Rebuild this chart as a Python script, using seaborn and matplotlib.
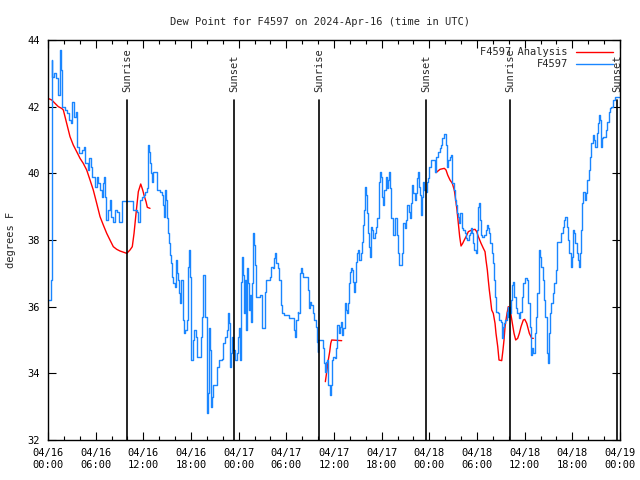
import numpy as np
import pandas as pd
import seaborn as sns
import matplotlib.pyplot as plt
import matplotlib.dates as mdates

start = pd.Timestamp('2024-04-16 00:00')

# station observations: hours since 04/16 00:00 UTC, dew point (F)
blue_hours = [0.00, 0.34, 0.47, 0.54, 0.79, 1.01, 1.22, 1.30, 1.51, 1.64, 1.80, 2.14, 2.35, 2.64, 2.90,
              3.06, 3.27, 3.49, 3.61, 3.69, 3.90, 4.24, 4.57, 4.66, 5.00, 5.16, 5.38, 5.50, 5.79, 5.92,
              6.13, 6.33, 6.55, 6.76, 6.96, 7.09, 7.18, 7.30, 7.59, 7.80, 7.93, 8.22, 8.43, 8.65, 8.94,
              9.19, 9.35, 10.61, 10.74, 11.17, 11.37, 11.58, 11.79, 12.12, 12.21, 12.42, 12.63, 12.75,
              12.84, 12.97, 13.09, 13.26, 13.60, 13.68, 13.76, 14.10, 14.31, 14.44, 14.51, 14.60, 14.73,
              14.85, 14.94, 15.07, 15.19, 15.36, 15.48, 15.65, 15.77, 15.95, 16.11, 16.20, 16.40, 16.53,
              16.62, 16.78, 16.96, 17.08, 17.25, 17.46, 17.66, 17.79, 17.87, 17.96, 18.04, 18.21, 18.38,
              18.63, 18.79, 19.05, 19.22, 19.39, 19.47, 19.55, 19.76, 19.98, 20.05, 20.18, 20.30, 20.39,
              20.56, 20.64, 20.81, 21.15, 21.31, 21.49, 21.87, 22.07, 22.24, 22.49, 22.66, 22.75, 22.91,
              23.00, 23.16, 23.33, 23.54, 23.75, 23.88, 24.04, 24.17, 24.29, 24.42, 24.55, 24.67, 24.80,
              24.92, 25.05, 25.18, 25.30, 25.43, 25.55, 25.72, 25.84, 25.93, 26.06, 26.22, 26.56, 26.72,
              26.90, 26.98, 27.15, 27.28, 27.40, 27.82, 27.95, 28.07, 28.29, 28.49, 28.61, 28.74, 28.91,
              29.08, 29.29, 29.49, 29.67, 30.17, 30.34, 30.93, 31.00, 31.13, 31.26, 31.43, 31.51, 31.68,
              31.76, 31.85, 32.01, 32.14, 32.56, 32.69, 32.85, 32.98, 33.11, 33.32, 33.52, 33.70, 33.82,
              33.95, 34.03, 34.53, 34.65, 34.78, 34.87, 34.99, 35.16, 35.28, 35.46, 35.59, 35.71, 35.91,
              36.09, 36.21, 36.34, 36.42, 36.63, 36.79, 36.92, 37.05, 37.17, 37.35, 37.42, 37.55, 37.68,
              37.80, 37.89, 38.01, 38.14, 38.27, 38.43, 38.52, 38.65, 38.77, 38.90, 39.02, 39.19, 39.36,
              39.53, 39.65, 39.78, 39.90, 40.03, 40.12, 40.28, 40.41, 40.53, 40.70, 40.82, 40.95, 41.12,
              41.29, 41.45, 41.63, 41.70, 41.79, 41.92, 42.08, 42.21, 42.33, 42.51, 42.64, 42.80, 42.96,
              43.09, 43.21, 43.39, 43.55, 43.72, 43.89, 44.02, 44.18, 44.47, 44.60, 44.72, 44.90, 45.06,
              45.23, 45.41, 45.57, 45.73, 45.86, 45.98, 46.16, 46.29, 46.41, 46.54, 46.66, 46.83, 46.99,
              47.12, 47.24, 47.37, 47.55, 47.67, 47.87, 48.00, 48.21, 48.50, 48.71, 48.88, 49.13, 49.31,
              49.47, 49.63, 49.81, 49.97, 50.10, 50.23, 50.39, 50.57, 50.77, 50.89, 51.07, 51.23, 51.36,
              51.48, 51.65, 51.77, 51.90, 52.08, 52.28, 52.49, 52.62, 52.78, 52.96, 53.12, 53.25, 53.37,
              53.50, 53.66, 53.84, 53.97, 54.09, 54.17, 54.29, 54.42, 54.51, 54.67, 54.88, 55.10, 55.22,
              55.35, 55.51, 55.68, 55.85, 56.02, 56.14, 56.27, 56.39, 56.61, 56.81, 56.99, 57.11, 57.24,
              57.40, 57.57, 57.74, 57.87, 57.95, 58.07, 58.20, 58.32, 58.45, 58.57, 58.70, 58.87, 59.08,
              59.29, 59.45, 59.63, 59.83, 60.04, 60.26, 60.46, 60.67, 60.80, 60.93, 61.09, 61.26, 61.43,
              61.59, 61.77, 61.85, 61.97, 62.10, 62.27, 62.44, 62.60, 62.78, 62.90, 63.03, 63.19, 63.35,
              63.53, 63.73, 63.95, 64.11, 64.45, 64.61, 64.79, 64.95, 65.12, 65.29, 65.46, 65.62, 65.80,
              65.92, 66.05, 66.17, 66.34, 66.55, 66.71, 66.88, 67.00, 67.13, 67.26, 67.38, 67.56, 67.72,
              67.89, 68.06, 68.23, 68.39, 68.57, 68.73, 68.89, 69.07, 69.19, 69.32, 69.45, 69.57, 69.70,
              69.90, 70.11, 70.24, 70.40, 70.58, 70.74, 70.91, 71.08, 71.33, 71.91]
blue_dew = [36.20, 36.80, 43.40, 42.90, 43.01, 42.86, 42.60, 42.35, 43.70, 43.10, 42.00, 41.90, 41.81, 41.60, 41.51,
            42.15, 41.70, 41.85, 41.21, 40.80, 40.61, 40.70, 40.80, 40.31, 40.10, 40.46, 40.20, 39.90, 39.90, 39.60,
            39.90, 39.71, 39.50, 39.30, 39.71, 39.90, 39.30, 38.60, 38.90, 39.20, 38.70, 38.55, 38.90, 38.85, 38.55,
            38.55, 39.18, 39.18, 38.90, 38.85, 38.55, 39.20, 39.30, 39.35, 39.45, 39.55, 40.85, 40.65,
            40.31, 40.01, 39.75, 40.05, 40.05, 39.60, 39.50, 39.45, 39.35, 39.20, 39.05, 38.70, 39.50,
            39.20, 38.65, 38.20, 37.90, 37.55, 37.30, 36.90, 36.70, 36.60, 37.40, 37.00, 36.80, 36.40,
            36.10, 36.80, 35.60, 35.20, 35.30, 35.60, 37.20, 37.70, 36.90, 35.30, 34.40, 35.00, 35.30,
            35.10, 34.50, 34.50, 35.10, 35.70, 36.50, 36.95, 35.70, 34.70, 32.80, 33.40, 35.35, 34.70,
            33.00, 33.30, 33.65, 33.65, 34.20, 34.40, 34.42, 34.90, 35.10, 35.30, 35.80, 35.50, 34.20,
            34.60, 35.10, 34.70, 34.40, 34.60, 35.10, 35.35, 34.40, 36.75, 37.50, 36.95, 35.80, 36.80,
            35.30, 37.15, 36.70, 35.90, 36.35, 35.55, 36.70, 38.20, 37.85, 37.25, 36.30, 36.30, 36.35,
            35.85, 35.35, 35.35, 36.45, 36.80, 36.80, 36.90, 37.20, 37.15, 37.45, 37.60, 37.30, 37.15,
            36.80, 36.05, 35.80, 35.75, 35.75, 35.65, 35.62, 35.30, 35.10, 35.60, 35.85, 35.80, 36.45,
            37.00, 37.15, 37.00, 36.90, 36.90, 36.50, 35.95, 36.15, 36.05, 35.80, 35.60, 35.40, 34.95,
            34.65, 35.00, 35.00, 34.75, 34.30, 34.05, 34.35, 34.40, 33.65, 33.35, 33.65, 34.40, 34.50,
            34.45, 34.75, 35.30, 35.45, 35.20, 35.40, 35.55, 35.15, 35.35, 35.80, 36.10, 35.90, 35.80,
            36.10, 36.70, 37.05, 37.15, 37.10, 36.75, 36.45, 36.75, 37.35, 37.60, 37.70, 37.40, 37.60,
            37.95, 38.45, 38.90, 39.60, 39.35, 38.80, 38.20, 37.80, 37.50, 38.40, 38.30, 38.05, 38.20,
            38.40, 38.65, 39.10, 39.75, 40.05, 39.90, 39.30, 39.05, 39.50, 39.90, 39.55, 39.80, 40.05,
            39.55, 38.65, 38.15, 38.15, 38.65, 38.15, 37.60, 37.25, 37.25, 37.60, 38.50, 38.35, 38.60,
            39.05, 38.85, 38.65, 39.10, 39.65, 39.40, 39.20, 39.40, 39.85, 40.05, 39.60, 39.35, 38.75,
            39.30, 39.75, 39.50, 39.45, 39.75, 39.85, 40.20, 40.40, 40.40, 40.05, 40.50, 40.65, 40.75,
            40.85, 41.05, 41.18, 41.18, 40.85, 40.20, 40.40, 40.50, 40.55, 39.70, 39.50, 39.20, 39.05,
            38.80, 38.70, 38.50, 38.80, 38.35, 38.30, 38.20, 38.05, 38.00, 38.15, 38.20, 38.35, 38.20,
            37.90, 37.70, 37.60, 38.30, 38.70, 39.00, 39.10, 38.60, 38.15, 38.10, 38.15, 38.30, 38.45,
            38.35, 38.20, 37.90, 37.60, 37.30, 36.80, 36.30, 35.85, 35.80, 35.60, 35.55, 35.05, 35.40,
            35.50, 35.60, 35.85, 36.00, 35.70, 36.00, 35.80, 36.20, 36.65, 36.75, 36.30, 35.95, 35.80,
            35.65, 35.85, 36.30, 36.70, 36.85, 36.80, 36.10, 35.40, 34.55, 34.75, 34.60, 35.20, 35.70,
            36.40, 37.20, 37.70, 37.50, 37.20, 36.80, 36.20, 35.70, 34.60, 34.30, 35.20, 35.80, 36.10,
            36.40, 36.70, 37.10, 37.95, 37.95, 38.20, 38.40, 38.60, 38.70, 38.40, 38.00, 37.60, 37.20,
            37.50, 38.30, 38.20, 37.90, 37.60, 37.40, 37.20, 37.60, 38.30, 39.10, 39.45, 39.20, 39.40,
            39.80, 40.10, 40.50, 40.90, 41.15, 41.00, 40.80, 41.20, 41.50, 41.75, 41.60, 40.80, 41.05,
            41.10, 41.10, 41.30, 41.55, 41.85, 41.95, 42.00, 42.20, 42.28, 42.28]

# analysis, three separate pieces
ana1_hours = [0.00, 0.47, 0.88, 1.30, 1.72, 1.93, 2.14, 2.35, 2.56, 2.77, 3.18, 3.61, 4.03, 4.44, 4.87,
              5.29, 5.70, 6.13, 6.55, 6.96, 7.39, 7.80, 8.22, 8.65, 9.06, 9.91, 10.32, 10.61, 10.83,
              11.04, 11.17, 11.37, 11.67, 11.92, 12.08, 12.34, 12.50, 12.84]
ana1_dew = [42.25, 42.20, 42.10, 42.00, 41.95, 41.90, 41.70, 41.50, 41.30, 41.10, 40.85, 40.65, 40.45, 40.30, 40.10,
            39.80, 39.50, 39.10, 38.70, 38.45, 38.20, 38.00, 37.80, 37.72, 37.67, 37.60, 37.70, 37.80, 38.20,
            38.70, 39.00, 39.45, 39.68, 39.50, 39.35, 39.15, 38.98, 38.95]
ana2_hours = [34.91, 35.12, 35.28, 35.46, 35.59, 35.71, 36.97]
ana2_dew = [33.75, 34.10, 34.40, 34.65, 34.90, 35.00, 34.98]
ana3_hours = [48.84, 49.34, 49.89, 50.10, 50.31, 50.60, 50.89, 51.14, 51.32, 51.48, 51.65, 51.82, 51.99,
              52.20, 52.40, 52.62, 52.91, 53.33, 53.75, 53.96, 54.17, 54.51, 54.80, 55.01, 55.13, 55.30,
              55.42, 55.55, 55.73, 55.85, 56.05, 56.27, 56.39, 56.61, 56.77, 57.11, 57.27, 57.40, 57.53,
              57.65, 57.78, 57.94, 58.16, 58.28, 58.45, 58.66, 58.87, 59.12, 59.33, 59.54, 59.83, 60.01,
              60.26, 60.59, 60.89, 61.09]
ana3_dew = [40.02, 40.12, 40.15, 40.10, 39.95, 39.80, 39.70, 39.50, 39.20, 38.90, 38.50, 38.10, 37.82,
            37.90, 38.00, 38.10, 38.25, 38.30, 38.32, 38.25, 38.10, 37.90, 37.75, 37.65, 37.40, 37.10,
            36.80, 36.50, 36.15, 35.90, 35.80, 35.50, 35.20, 34.80, 34.40, 34.38, 34.70, 35.00, 35.40,
            35.60, 35.80, 36.00, 35.90, 35.75, 35.50, 35.20, 35.00, 35.05, 35.20, 35.40, 35.60, 35.62,
            35.50, 35.20, 35.05, 35.05]

sun_hours = [9.94, 23.41, 34.11, 47.58, 58.16, 71.62]
sun_labels = ['Sunrise', 'Sunset', 'Sunrise', 'Sunset', 'Sunrise', 'Sunset']

obs = pd.DataFrame({'time': start + pd.to_timedelta(blue_hours, unit='h'), 'dew': blue_dew})
pieces = []
for i, (hh, dd) in enumerate([(ana1_hours, ana1_dew), (ana2_hours, ana2_dew), (ana3_hours, ana3_dew)]):
    pieces.append(pd.DataFrame({'time': start + pd.to_timedelta(hh, unit='h'), 'dew': dd, 'seg': i}))
ana = pd.concat(pieces, ignore_index=True)

sns.set_style('ticks')
plt.rcParams['font.family'] = ['DejaVu Sans Mono']
fs = 7.5

fig = plt.figure(figsize=(6.4, 4.8), dpi=100)
ax = fig.add_axes([48 / 640, 40 / 480, 572 / 640, 400 / 480])

sns.lineplot(data=ana, x='time', y='dew', units='seg', estimator=None, sort=False,
             color='#ff0000', lw=1.0, ax=ax, label='F4597 Analysis')
sns.lineplot(data=obs, x='time', y='dew', estimator=None, sort=False,
             color='#1a86ff', lw=1.0, drawstyle='steps-post', ax=ax, label='F4597')

for h, lab in zip(sun_hours, sun_labels):
    t = start + pd.Timedelta(hours=h)
    ax.plot([t, t], [32, 42.2], color='black', lw=1.2)
    ax.text(t, 42.45, lab, rotation=90, ha='center', va='bottom', fontsize=fs)

ax.set_xlim(start, start + pd.Timedelta(hours=72))
ax.set_ylim(32, 44)
ax.set_yticks(np.arange(32, 45, 2))
ax.xaxis.set_major_locator(mdates.HourLocator(byhour=[0, 6, 12, 18]))
ax.xaxis.set_minor_locator(mdates.HourLocator(byhour=range(0, 24, 2)))
ax.xaxis.set_major_formatter(mdates.DateFormatter('%m/%d\n%H:%M'))
ax.tick_params(which='both', direction='in', top=True, right=True, labelsize=fs, colors='black')
ax.tick_params(which='major', length=6, width=0.8)
ax.tick_params(which='minor', length=3, width=0.8)
ax.tick_params(axis='y', pad=6)
ax.tick_params(axis='x', pad=6)
for s in ax.spines.values():
    s.set_color('black')
    s.set_linewidth(1.0)

ax.set_xlabel('')
ax.set_ylabel('degrees F', fontsize=fs, labelpad=8)
fig.suptitle('Dew Point for F4597 on 2024-Apr-16 (time in UTC)', fontsize=fs, y=0.965)

# one legend entry per series (units create several red lines)
handles, labels = ax.get_legend_handles_labels()
keep = {}
for hd, lb in zip(handles, labels):
    keep.setdefault(lb, hd)
ax.legend(list(keep.values()), list(keep.keys()), loc='upper right', frameon=False,
          markerfirst=False, fontsize=fs, handlelength=3.5, borderaxespad=0.3,
          labelspacing=0.2, handletextpad=0.8)

fig.savefig('out.png', dpi=100)
